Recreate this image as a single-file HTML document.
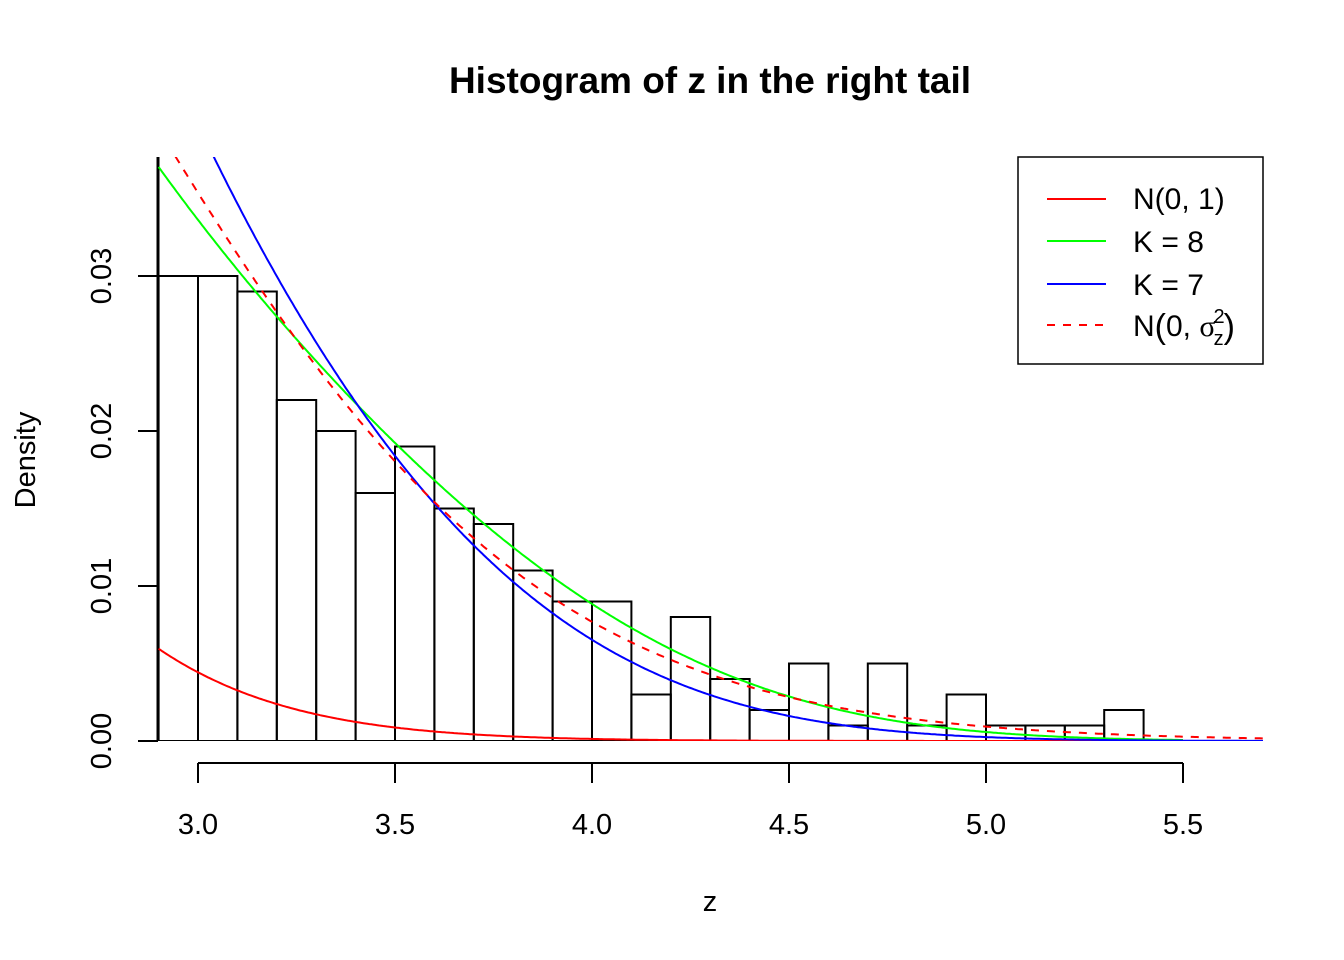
<!DOCTYPE html>
<html><head><meta charset="utf-8"><style>
html,body{margin:0;padding:0;background:#fff}
svg{display:block;font-family:"Liberation Sans",Arial,sans-serif}
</style></head><body>
<svg id="s" width="1344" height="960" viewBox="0 0 1344 960" xmlns="http://www.w3.org/2000/svg">
<defs><clipPath id="c"><rect x="150" y="157" width="1113" height="584"/></clipPath></defs>
<text x="710" y="93" text-anchor="middle" font-size="37" font-weight="bold">Histogram of z in the right tail</text>
<g id="hist" clip-path="url(#c)" fill="none" stroke="#000" stroke-width="2"></g>
<g id="curves" clip-path="url(#c)" fill="none" stroke-width="2"></g>
<g stroke="#000" stroke-width="2" fill="none">
<line x1="198" y1="763" x2="1183" y2="763"/>
<line x1="198" y1="763" x2="198" y2="783"/><line x1="395" y1="763" x2="395" y2="783"/>
<line x1="592" y1="763" x2="592" y2="783"/><line x1="789" y1="763" x2="789" y2="783"/>
<line x1="986" y1="763" x2="986" y2="783"/><line x1="1183" y1="763" x2="1183" y2="783"/>
<line x1="158" y1="741" x2="138" y2="741"/><line x1="158" y1="586" x2="138" y2="586"/>
<line x1="158" y1="431" x2="138" y2="431"/><line x1="158" y1="276" x2="138" y2="276"/>
</g>
<g font-size="29" text-anchor="middle">
<text x="198" y="834">3.0</text><text x="395" y="834">3.5</text><text x="592" y="834">4.0</text>
<text x="789" y="834">4.5</text><text x="986" y="834">5.0</text><text x="1183" y="834">5.5</text>
<text transform="translate(111,741) rotate(-90)">0.00</text>
<text transform="translate(111,586) rotate(-90)">0.01</text>
<text transform="translate(111,431) rotate(-90)">0.02</text>
<text transform="translate(111,276) rotate(-90)">0.03</text>
<text x="710" y="911">z</text>
<text transform="translate(35,460) rotate(-90)">Density</text>
</g>
<rect x="1018" y="157" width="245" height="207" fill="#fff" stroke="#000" stroke-width="1.5"/>
<g stroke-width="2">
<line x1="1047" y1="199" x2="1106" y2="199" stroke="#f00"/>
<line x1="1047" y1="241" x2="1106" y2="241" stroke="#0f0"/>
<line x1="1047" y1="284" x2="1106" y2="284" stroke="#00f"/>
<line x1="1047" y1="325" x2="1106" y2="325" stroke="#f00" stroke-dasharray="8,8"/>
</g>
<g font-size="30">
<text x="1133" y="209">N(0, 1)</text>
<text x="1133" y="252">K = 8</text>
<text x="1133" y="295">K = 7</text>
<text x="1133" y="336">N<tspan font-size="34" dy="2">(</tspan><tspan dy="-2">0, </tspan><tspan font-family="'Liberation Serif',serif">σ</tspan><tspan font-size="20" dy="-13" dx="-2">2</tspan><tspan font-size="20" dy="22" dx="-11">z</tspan><tspan font-size="34" dy="-7">)</tspan></text>
</g>
</svg>
<script>
var X=function(z){return 198+(z-3)*394;}, Y=function(d){return 741-d*15500;};
var h=[0.030,0.030,0.029,0.022,0.020,0.016,0.019,0.015,0.014,0.011,0.009,0.009,0.003,0.008,0.004,0.002,0.005,0.001,0.005,0.001,0.003,0.001,0.001,0.001,0.002];
var s='<line x1="158" y1="157" x2="158" y2="741" stroke-width="3"/>';
for(var i=0;i<h.length;i++){var a=X(2.9+i*0.1),b=X(3.0+i*0.1);s+='<rect x="'+a+'" y="'+Y(h[i])+'" width="'+(b-a)+'" height="'+(h[i]*15500)+'"/>';}
s+='<line x1="150" y1="741" x2="1263" y2="741" stroke-width="1.5"/>';
document.getElementById('hist').innerHTML=s;
function fit(t){ // least-squares quadratic-cubic in log space
 var n=4,A=[],b=[];for(var i=0;i<n;i++){A.push([0,0,0,0]);b.push(0);}
 t.forEach(function(p){var z=p[0]-4,l=Math.log(p[1]),v=[1,z,z*z,z*z*z];
  for(var i=0;i<n;i++){b[i]+=v[i]*l;for(var j=0;j<n;j++)A[i][j]+=v[i]*v[j];}});
 for(var i=0;i<n;i++){for(var k=i+1;k<n;k++){var f=A[k][i]/A[i][i];for(var j=i;j<n;j++)A[k][j]-=f*A[i][j];b[k]-=f*b[i];}}
 var c=[0,0,0,0];for(var i=n-1;i>=0;i--){var s=b[i];for(var j=i+1;j<n;j++)s-=A[i][j]*c[j];c[i]=s/A[i][i];}
 return function(z){z-=4;return Math.exp(c[0]+c[1]*z+c[2]*z*z+c[3]*z*z*z);};}
var G=[[2.9,0.0377],[3.1,0.0300],[3.2,0.0272],[3.44,0.0203],[3.55,0.0181],[3.9,0.0107],[4.0,0.0090],[4.1,0.0073],[4.2,0.0059],[4.3,0.0048],[4.4,0.0037],[4.5,0.0029],[4.7,0.00157],[4.9,0.00084],[5.1,0.00039],[5.3,0.00017]];
var B=[[3.03,0.0377],[3.13,0.0332],[3.26,0.0275],[3.386,0.0228],[3.513,0.0181],[3.893,0.00834],[4.0,0.0065],[4.1,0.0051],[4.2,0.0039],[4.3,0.0029],[4.4,0.0022],[4.5,0.00163],[4.7,0.00082],[4.9,0.00039],[5.31,0.00006]];
var R=[[2.97,0.0377],[3.05,0.0336],[3.13,0.0302],[3.22,0.0267],[3.30,0.0233],[3.47,0.0186],[3.905,0.0090],[4.0,0.0076],[4.1,0.0064],[4.2,0.0053],[4.3,0.00447],[4.4,0.0037],[4.5,0.00286],[4.7,0.00178],[4.9,0.0011],[5.105,0.00075],[5.31,0.00043],[5.71,0.00017]];
function path(f,z0,z1){var d='';for(var z=z0;z<=z1+1e-9;z+=0.005){d+=(d?'L':'M')+X(z).toFixed(1)+','+Y(f(z)).toFixed(1);}return d;}
var c='';
c+='<path stroke="#f00" d="'+path(function(z){return Math.exp(-z*z/2)/Math.sqrt(2*Math.PI);},2.9,5.72)+'"/>';
c+='<path stroke="#0f0" d="'+path(fit(G),2.9,5.5)+'"/>';
c+='<path stroke="#00f" d="'+path(fit(B),2.9,5.72)+'"/>';
c+='<path stroke="#f00" stroke-dasharray="8,8" d="'+path(fit(R),2.9,5.72)+'"/>';
document.getElementById('curves').innerHTML=c;
</script>
</body></html>
